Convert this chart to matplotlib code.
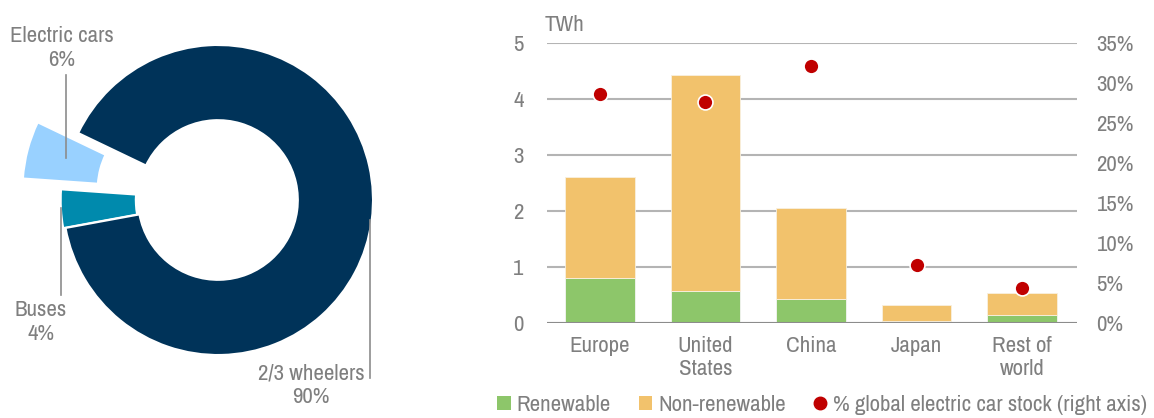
import matplotlib
matplotlib.use("Agg")
import matplotlib.pyplot as plt
from matplotlib.lines import Line2D
from matplotlib.patches import Patch
import numpy as np

plt.rcParams['font.family'] = ['Archivo Narrow', 'Liberation Sans', 'DejaVu Sans']

# Donut: share of electric vehicle stock by mode
modes = ["Electric cars", "Buses", "2/3 wheelers"]
mode_share = [6, 4, 90]
mode_colors = ["#99D1FF", "#008AAD", "#003359"]

# Bars: electricity demand by region
regions = ["Europe", "United\nStates", "China", "Japan", "Rest of\nworld"]
renewable = [0.80, 0.58, 0.42, 0.04, 0.14]
non_renewable = [1.80, 3.85, 1.63, 0.28, 0.39]
stock_share = [28.6, 27.6, 32.1, 7.3, 4.4]

TEXT = "#7F7F7F"
FS = 16.5
W, H = 1154, 418
fig = plt.figure(figsize=(W / 100, H / 100), dpi=100)

# ---- donut ----
cx, cy, r = 218, 200, 155
half = 200
axp = fig.add_axes([(cx - half) / W, 1 - (cy + half) / H, 2 * half / W, 2 * half / H])
axp.pie(mode_share, colors=mode_colors, startangle=154.4, counterclock=True,
        explode=[0.27, 0.015, 0], radius=1.0,
        wedgeprops=dict(width=0.485, edgecolor="white", linewidth=1.5))
lim = half / r
axp.set_xlim(-lim, lim)
axp.set_ylim(-lim, lim)
axp.set_aspect("equal")
axp.axis("off")


def px(x, y):
    return (x - cx) / r, (cy - y) / r


def leader(x, y0, y1):
    (ax_, ay0), (_, ay1) = px(x, y0), px(x, y1)
    axp.add_line(Line2D([ax_, ax_], [ay0, ay1], color="#8C8C8C", lw=1.2, clip_on=False))


lab_kw = dict(color=TEXT, fontsize=FS, ha="center", va="center", linespacing=1.2)
axp.text(*px(62, 48), f"{modes[0]}\n{mode_share[0]}%", **lab_kw, clip_on=False)
axp.text(*px(41, 322), f"{modes[1]}\n{mode_share[1]}%", **lab_kw, clip_on=False)
axp.text(*px(311, 385), f"{modes[2]}\n{mode_share[2]}%", **lab_kw, clip_on=False)
leader(66, 75, 158)
leader(61, 208, 295)
leader(370, 220, 378)

# ---- bars ----
left, right, top, bottom = 547, 1077, 43, 323
ax = fig.add_axes([left / W, 1 - bottom / H, (right - left) / W, (bottom - top) / H])
x = np.arange(len(regions))
ax.bar(x, renewable, width=0.66, color="#8DC66A", edgecolor="#F4F4F4", linewidth=0.6, zorder=3)
ax.bar(x, non_renewable, bottom=renewable, width=0.66, color="#F2C26C",
       edgecolor="#F8F0E0", linewidth=0.6, zorder=3)
ax.set_xlim(-0.5, 4.52)
ax.set_ylim(0, 5)
ax.set_yticks(range(6))
ax.grid(axis="y", color="#B4B4B4", lw=1.5, zorder=0)
ax.axhline(0, color="#8C8C8C", lw=2.2, zorder=4)
for s in ax.spines.values():
    s.set_visible(False)
ax.set_xticks(x)
ax.set_xticklabels(regions, linespacing=1.2)
ax.tick_params(axis="both", length=0, labelsize=FS, labelcolor=TEXT)
ax.tick_params(axis="x", pad=9)
ax.tick_params(axis="y", pad=17)
ax.text(-0.005, 1.03, "TWh", transform=ax.transAxes, color=TEXT, fontsize=FS,
        ha="left", va="bottom")

ax2 = ax.twinx()
ax2.set_ylim(0, 35)
ax2.set_yticks(range(0, 36, 5))
ax2.set_yticklabels([f"{v}%" for v in range(0, 36, 5)])
ax2.tick_params(axis="y", length=0, labelsize=FS, labelcolor=TEXT, pad=14)
for s in ax2.spines.values():
    s.set_visible(False)
ax2.scatter(x, stock_share, s=115, color="#C00000", edgecolor="white", linewidth=1.2, zorder=5)

# ---- legend ----
handles = [
    Patch(facecolor="#8DC66A", edgecolor="none", label="Renewable"),
    Patch(facecolor="#F2C26C", edgecolor="none", label="Non-renewable"),
    Line2D([], [], marker="o", ls="none", color="#C00000", markersize=9,
           label="% global electric car stock (right axis)"),
]
fig.legend(handles=handles, loc="center", bbox_to_anchor=(822 / W, 1 - 405 / H), ncol=3,
           frameon=False, fontsize=FS, labelcolor=TEXT, handlelength=0.6, handleheight=0.6,
           handletextpad=0.25, columnspacing=1.2, borderpad=0)

fig.savefig("out.png", dpi=100)
